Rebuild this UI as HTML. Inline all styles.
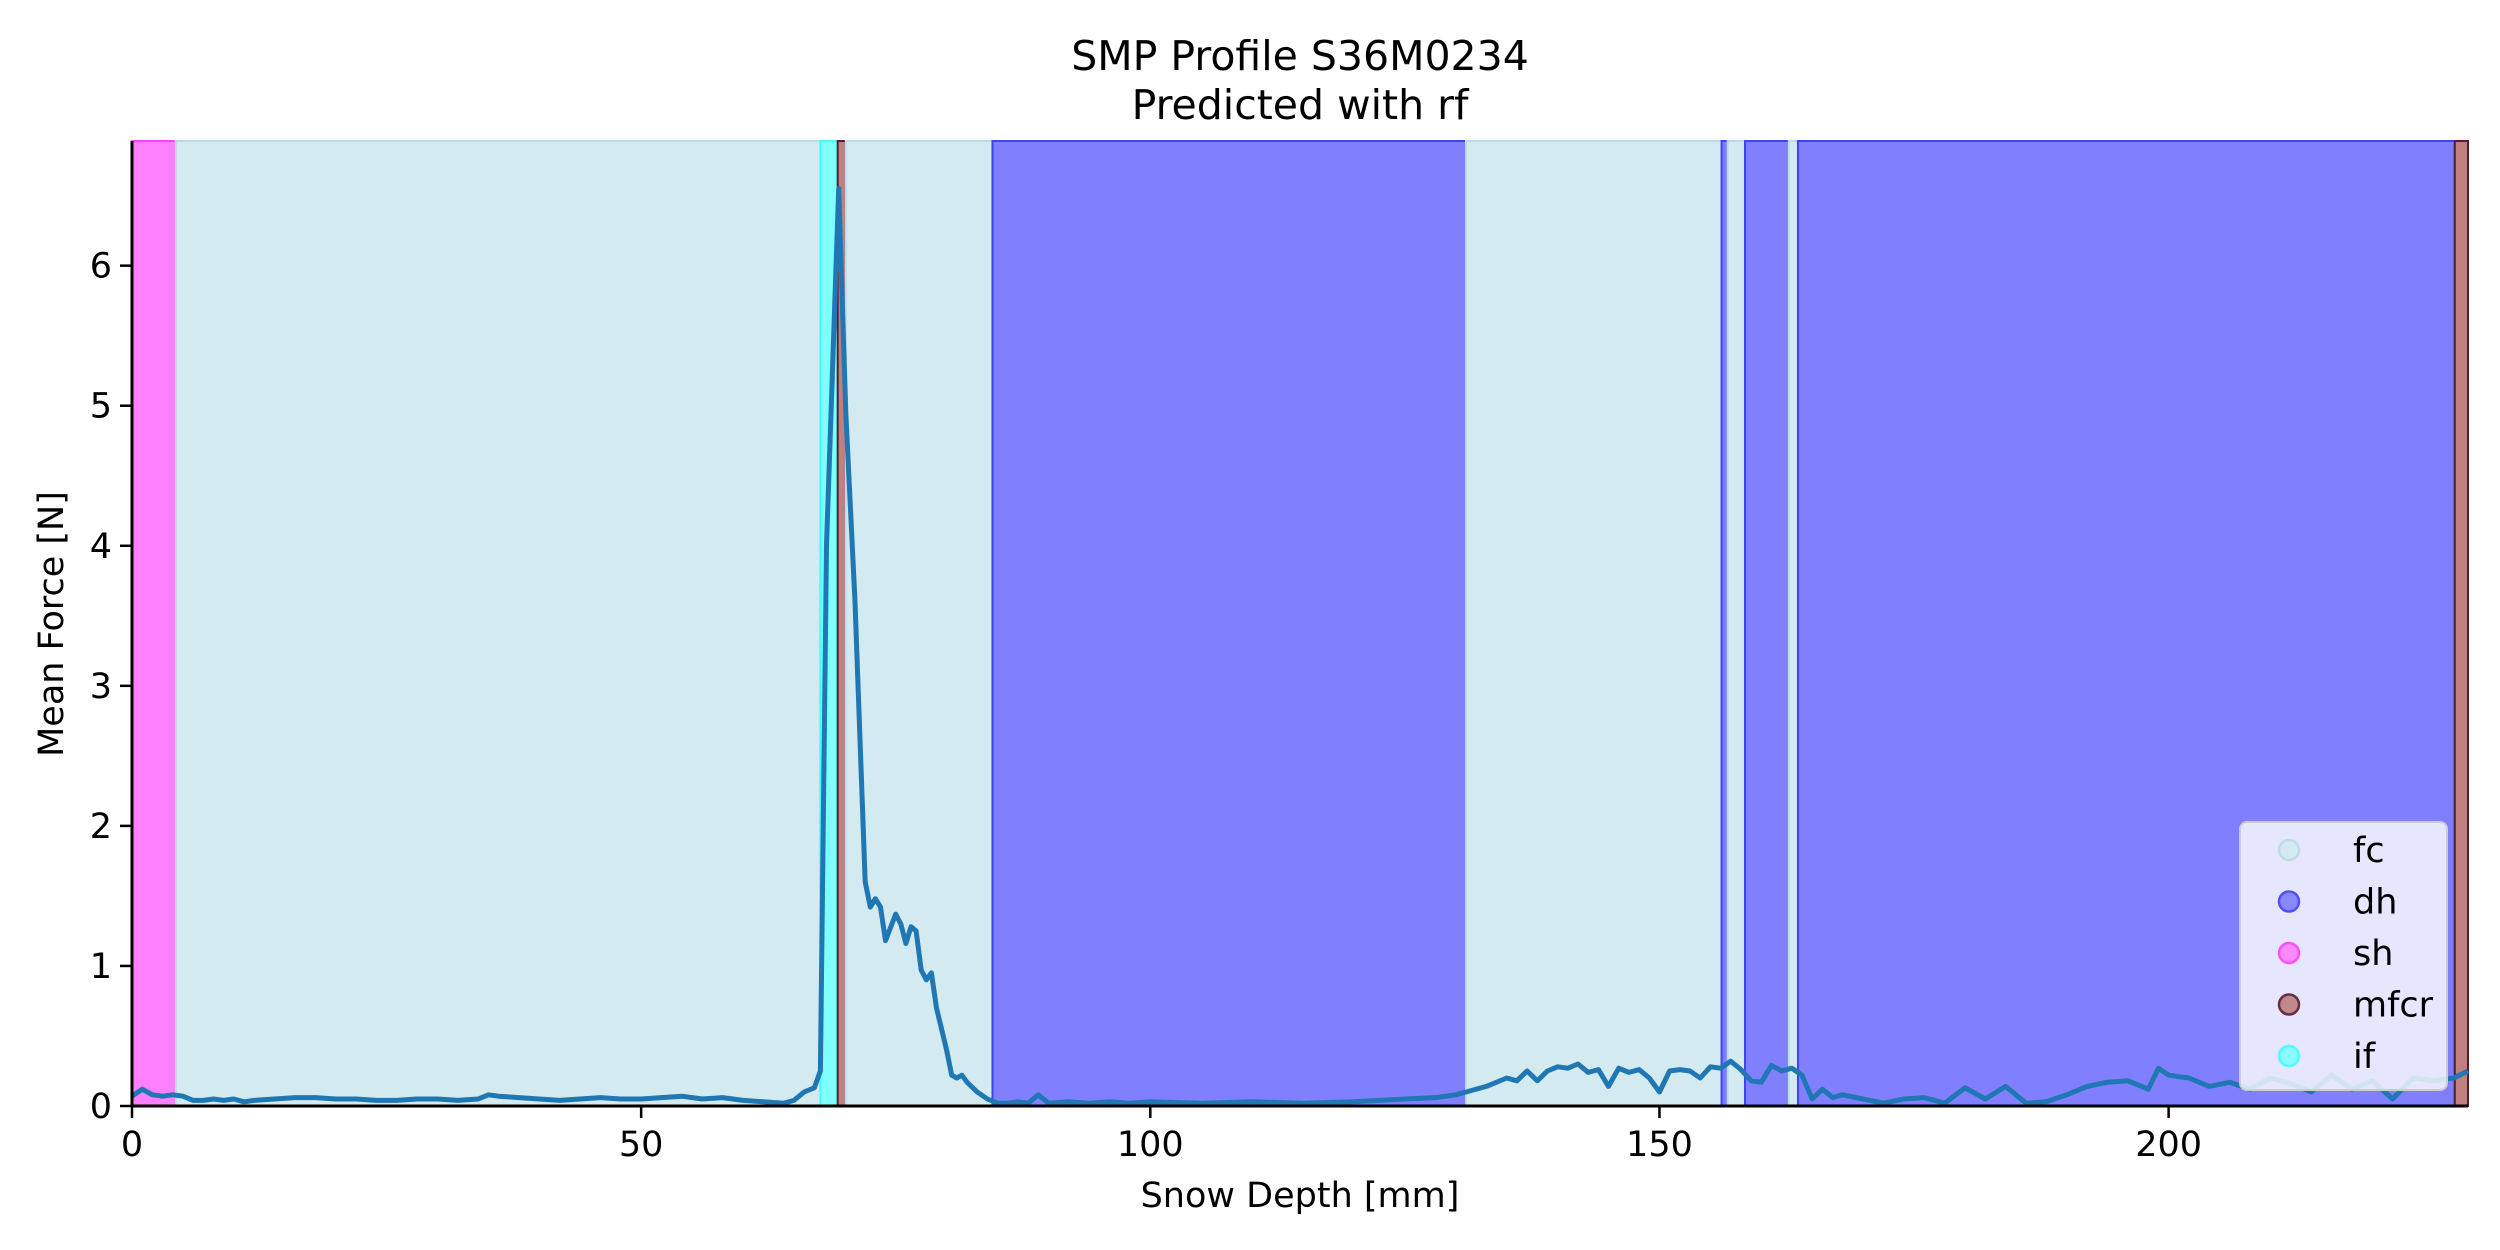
<!DOCTYPE html>
<html><head><meta charset="utf-8"><style>
html,body{margin:0;padding:0;background:#fff;}
svg{display:block;font-family:"DejaVu Sans","Liberation Sans",sans-serif;}
</style></head><body>
<svg id="chart" width="2500" height="1250" viewBox="0 0 2500 1250" xmlns="http://www.w3.org/2000/svg">
<rect width="2500" height="1250" fill="#fff"/>
<text x="1300" y="70" font-size="41" text-anchor="middle">SMP Profile S36M0234</text>
<text x="1300" y="119" font-size="41" text-anchor="middle">Predicted with rf</text>
<g id="bands"></g>
<g id="series"></g>
<g id="axes"></g>
<g id="legend"></g>
<text x="1300" y="1207" font-size="35" text-anchor="middle">Snow Depth [mm]</text>
<text transform="translate(63,624) rotate(-90)" font-size="35" text-anchor="middle">Mean Force [N]</text>
</svg>
<script>
const bandStarts = [0, 4.3, 67.6, 69.3, 70.1, 84.5, 131.0, 156.1, 156.7, 158.4, 162.7, 163.6, 228.1];
const bandEnds   = [4.3, 67.6, 69.3, 70.1, 84.5, 131.0, 156.1, 156.7, 158.4, 162.7, 163.6, 228.1, 229.4];
const bandLabels = ['sh','fc','if','mfcr','fc','dh','fc','dh','fc','dh','fc','dh','mfcr'];
const legendLabels = ['fc','dh','sh','mfcr','if'];
const xTicks = [0, 50, 100, 150, 200];
const yTicks = [0, 1, 2, 3, 4, 5, 6];
const depths = [0,1,2,3,4,5,6,7,8,9,10,11,12,14,16,18,20,22,24,26,28,30,32,34,35,36,38,40,42,44,46,48,50,52,54,56,58,60,62,64,65,66,67,67.6,68.2,69.4,70.1,71,71.6,72,72.5,73,73.5,74,75,75.5,76,76.5,77,77.5,78,78.5,79,80,80.5,81,81.5,82,83,84,85,86,87,88,89,90,92,94,96,98,100,105,110,115,120,125,128,130,131,133,135,136,137,138,139,140,141,142,143,144,145,146,147,148,149,150,151,152,153,154,155,156,157,158,159,160,161,162,163,164,165,166,167,168,170,172,174,176,178,180,182,184,186,188,190,192,194,196,198,199,200,202,204,206,208,210,212,214,216,218,220,222,224,226,228,229.4];
const forces = [0.07,0.12,0.08,0.07,0.08,0.07,0.04,0.04,0.05,0.04,0.05,0.03,0.04,0.05,0.06,0.06,0.05,0.05,0.04,0.04,0.05,0.05,0.04,0.05,0.08,0.07,0.06,0.05,0.04,0.05,0.06,0.05,0.05,0.06,0.07,0.05,0.06,0.04,0.03,0.02,0.04,0.1,0.13,0.25,4.0,6.55,4.95,3.6,2.4,1.6,1.42,1.48,1.42,1.18,1.37,1.3,1.16,1.28,1.25,0.97,0.9,0.95,0.7,0.4,0.22,0.2,0.22,0.17,0.1,0.05,0.02,0.02,0.03,0.02,0.08,0.02,0.03,0.02,0.03,0.02,0.03,0.02,0.03,0.02,0.03,0.05,0.06,0.08,0.1,0.14,0.2,0.18,0.25,0.18,0.25,0.28,0.27,0.3,0.24,0.26,0.14,0.27,0.24,0.26,0.2,0.1,0.25,0.26,0.25,0.2,0.28,0.27,0.32,0.26,0.18,0.17,0.29,0.25,0.27,0.22,0.05,0.12,0.06,0.08,0.05,0.02,0.05,0.06,0.02,0.13,0.05,0.14,0.02,0.03,0.08,0.14,0.17,0.18,0.12,0.27,0.22,0.2,0.14,0.17,0.12,0.2,0.16,0.1,0.22,0.12,0.18,0.05,0.2,0.18,0.2,0.25];

const NS='http://www.w3.org/2000/svg';
const X0=132, X1=2468, Y0=1106, Y1=141, XMAX=229.4, YMAX=6.89;
const xs=v=>X0+(v/XMAX)*(X1-X0);
const ys=v=>Y0-(v/YMAX)*(Y0-Y1);
const fills={fc:'#d4eaf1',dh:'#8080ff',sh:'#ff80ff',mfcr:'#bf8080',if:'#80ffff'};
const edges={fc:'#b9dce8',dh:'#4040ff',sh:'#ff40ff',mfcr:'#5a1a30',if:'#40ffff'};
function mk(t,a,p){const e=document.createElementNS(NS,t);for(const k in a)e.setAttribute(k,a[k]);p.appendChild(e);return e;}

const bg=document.getElementById('bands');
bandStarts.forEach((s,i)=>{
  const lab=bandLabels[i];
  const r=mk('rect',{x:xs(s),y:Y1,width:Math.max(1,xs(bandEnds[i])-xs(s)),height:Y0-Y1,fill:fills[lab],stroke:edges[lab],'stroke-width':2},bg);
  
  
});

const sg=document.getElementById('series');
const pts=depths.map((d,i)=>xs(d).toFixed(1)+','+ys(forces[i]).toFixed(1)).join(' ');
const line=mk('polyline',{points:pts,fill:'none',stroke:'#1f77b4','stroke-width':5,'stroke-linejoin':'round'},sg);



const ag=document.getElementById('axes');
mk('line',{x1:X0,y1:Y1,x2:X0,y2:Y0+1,stroke:'#000','stroke-width':3},ag);
mk('line',{x1:X0-1,y1:Y0,x2:X1,y2:Y0,stroke:'#000','stroke-width':3},ag);
xTicks.forEach(t=>{
  const x=xs(t);
  mk('line',{x1:x,y1:Y0,x2:x,y2:Y0+12,stroke:'#000','stroke-width':2.5},ag);
  const tx=mk('text',{x:x,y:Y0+50,'font-size':35,'text-anchor':'middle'},ag);
  tx.textContent=t;
  
  
});
yTicks.forEach(t=>{
  const y=ys(t);
  mk('line',{x1:X0-12,y1:y,x2:X0,y2:y,stroke:'#000','stroke-width':2.5},ag);
  const tx=mk('text',{x:X0-20,y:y+12,'font-size':35,'text-anchor':'end'},ag);
  tx.textContent=t;
  
  
});

const lg=document.getElementById('legend');
const box=mk('rect',{x:2240,y:822,width:207,height:268,rx:7,fill:'#ffffff','fill-opacity':0.8,stroke:'#cccccc','stroke-width':2},lg);


legendLabels.forEach((lab,i)=>{
  const y=850+i*51.5;
  const g=mk('g',{},lg);
  
  
  mk('circle',{cx:2289,cy:y,r:10,fill:fills[lab],stroke:edges[lab],'stroke-width':2.5,opacity:0.9},g);
  const t=mk('text',{x:2353,y:y+12,'font-size':35},g);
  t.textContent=lab;
});
</script>
</body></html>
